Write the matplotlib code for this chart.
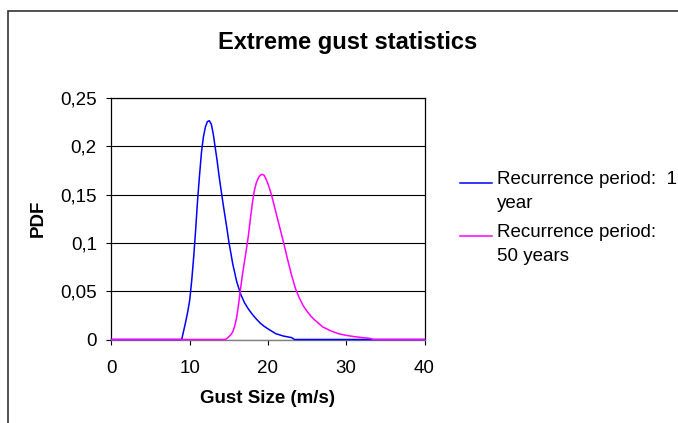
import matplotlib
matplotlib.use("Agg")
import matplotlib.pyplot as plt
from matplotlib.lines import Line2D
from matplotlib.patches import Rectangle

plt.rcParams["font.family"] = ["Liberation Sans", "DejaVu Sans"]

# gust size (m/s) and PDF values
gust_1yr = [0, 8.9, 9.0, 9.25, 9.5, 9.75, 10.0, 10.25, 10.5, 10.75, 11.0,
            11.25, 11.5, 11.75, 12.0, 12.25, 12.5, 12.75, 13.0, 13.25, 13.5,
            13.75, 14.0, 14.25, 14.5, 14.75, 15.0, 15.5, 16.0, 16.5, 17.0,
            17.5, 18.0, 18.5, 19.0, 19.5, 20.0, 21.0, 22.0, 23.0, 23.4, 40]
pdf_1yr = [0, 0, 0.001, 0.010, 0.019, 0.029, 0.041, 0.061, 0.085, 0.113,
           0.144, 0.170, 0.194, 0.210, 0.220, 0.2255, 0.2265, 0.223, 0.213,
           0.199, 0.185, 0.169, 0.155, 0.141, 0.128, 0.115, 0.101, 0.078,
           0.060, 0.047, 0.038, 0.0315, 0.026, 0.0213, 0.017, 0.0137, 0.011,
           0.006, 0.0035, 0.002, 0.0, 0]

gust_50yr = [0, 14.5, 14.75, 15.0, 15.25, 15.5, 15.75, 16.0, 16.25, 16.5,
             16.75, 17.0, 17.25, 17.5, 17.75, 18.0, 18.25, 18.5, 18.75, 19.0,
             19.25, 19.5, 19.75, 20.0, 20.25, 20.5, 20.75, 21.0, 21.5, 22.0,
             22.5, 23.0, 23.5, 24.0, 24.5, 25.0, 25.5, 26.0, 27.0, 28.0,
             29.0, 30.0, 31.0, 32.0, 33.0, 33.5, 40]
pdf_50yr = [0, 0.0, 0.001, 0.003, 0.005, 0.008, 0.014, 0.023, 0.037, 0.053,
            0.068, 0.081, 0.094, 0.108, 0.125, 0.141, 0.154, 0.162, 0.167,
            0.170, 0.171, 0.170, 0.166, 0.161, 0.155, 0.148, 0.140, 0.132,
            0.116, 0.100, 0.083, 0.067, 0.053, 0.043, 0.035, 0.029, 0.024,
            0.020, 0.013, 0.009, 0.006, 0.0043, 0.003, 0.002, 0.0012, 0.0, 0]

labels = ["Recurrence period:  1\nyear", "Recurrence period:\n50 years"]
colors = ["#0000FF", "#FF00FF"]

W, H = 678, 423
fig = plt.figure(figsize=(W / 100, H / 100), dpi=100)
ax = fig.add_axes([111.5 / W, 1 - 339.5 / H, 313 / W, 241.5 / H])

# horizontal gridlines
ax.grid(axis="y", color="black", linewidth=0.8)
ax.set_axisbelow(True)

ax.plot(gust_1yr, pdf_1yr, color=colors[0], lw=1.1, clip_on=False, zorder=5)
ax.plot(gust_50yr, pdf_50yr, color=colors[1], lw=1.1, clip_on=False, zorder=6)

ax.set_xlim(0, 40)
ax.set_ylim(0, 0.25)
ax.set_xticks([0, 10, 20, 30, 40])
ax.set_yticks([0, 0.05, 0.1, 0.15, 0.2, 0.25])
ax.set_yticklabels(["0", "0,05", "0,1", "0,15", "0,2", "0,25"])

for s in ["left", "top", "right"]:
    ax.spines[s].set_color("black")
    ax.spines[s].set_linewidth(0.9)
ax.spines["bottom"].set_color("#808080")
ax.spines["bottom"].set_linewidth(1.0)

ax.tick_params(axis="both", direction="out", length=3.6, width=0.8,
               labelsize=13.5, color="black")
ax.tick_params(axis="x", pad=11)
ax.tick_params(axis="y", pad=7)

ax.set_xlabel("Gust Size (m/s)", fontsize=13.5, fontweight="bold")
ax.set_ylabel("PDF", fontsize=13.5, fontweight="bold")
ax.xaxis.set_label_coords(0.5, -0.21)
ax.yaxis.set_label_coords(-0.206, 0.5)

fig.text(347.5 / W, 1 - 42.5 / H, "Extreme gust statistics", fontsize=17,
         fontweight="bold", ha="center", va="center")

# legend drawn by hand so the key sits on the first text line
for i, (lab, c) in enumerate(zip(labels, colors)):
    yk = [183, 236][i]
    fig.add_artist(Line2D([460 / W, 492 / W], [1 - yk / H] * 2, color=c,
                          lw=1.1, transform=fig.transFigure))
    fig.text(497 / W, 1 - (yk - 12) / H, lab, fontsize=13.5, ha="left",
             va="top", linespacing=1.55)

# outer chart frame (cut by the image edge)
fig.add_artist(Rectangle((7.5 / W, -0.05), 1.1, 1 - 11 / H + 0.05,
                         transform=fig.transFigure, fill=False,
                         edgecolor="#333333", lw=1.2))

fig.savefig("out.png", dpi=100)
